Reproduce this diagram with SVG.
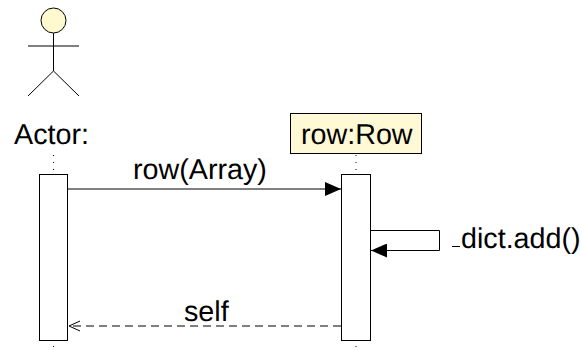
<svg xmlns="http://www.w3.org/2000/svg" width="581" height="350" viewBox="0 0 581 350">
<defs>
<marker id="solid" markerUnits="userSpaceOnUse" markerWidth="16" markerHeight="14" refX="16" refY="7" orient="auto"><path d="M0 0L16 7L0 14Z" fill="#000"/></marker>
<marker id="open" markerUnits="userSpaceOnUse" markerWidth="12" markerHeight="12" refX="11" refY="5.500" orient="auto"><path d="M0 0.500L11 5.500L0 10.500" fill="none" stroke="#000"/></marker>
</defs>
<style>
text{font-family:"Liberation Sans",Arial,sans-serif;font-size:28.700px;fill:#000;text-rendering:geometricPrecision}
.l{stroke:#000;fill:none;stroke-width:1}
.b{fill:#fff;stroke:#000;stroke-width:1}
.d{stroke:#000;stroke-width:1;stroke-dasharray:1 6;fill:none}
</style>
<rect width="581" height="350" fill="#fff"/>
<g id="actor">
<circle cx="53.500" cy="20.500" r="12.500" fill="#fff9cf" stroke="#000"/>
<path class="l" d="M53.500 33V71M28 46H79M53.500 71L28 96M53.500 71L79 96"/>
<text x="14" y="144">Actor:</text>
<path class="d" d="M53.500 155V172M53.500 346V350"/>
<rect class="b" x="39.500" y="174.500" width="28" height="166"/>
</g>
<g id="row">
<rect x="290.500" y="113.500" width="131" height="40" fill="#fff9d6" stroke="#000"/>
<text x="301" y="144">row:Row</text>
<path class="d" d="M356 155V172M356 346V350"/>
<rect class="b" x="341.500" y="174.500" width="29" height="166"/>
</g>
<g id="connectors">
<path class="l" d="M67.500 189H341" marker-end="url(#solid)"/>
<path class="l" d="M371 230.500H439.500V250.500H371" marker-end="url(#solid)"/>
<path class="l" d="M341 326H69" stroke-dasharray="8 5" marker-end="url(#open)"/>
<path class="l" d="M452 246.500H460" stroke="#555"/>
<text x="133" y="179">row(Array)</text>
<text x="461" y="248">dict.add()</text>
<text x="184" y="321">self</text>
</g>
</svg>
